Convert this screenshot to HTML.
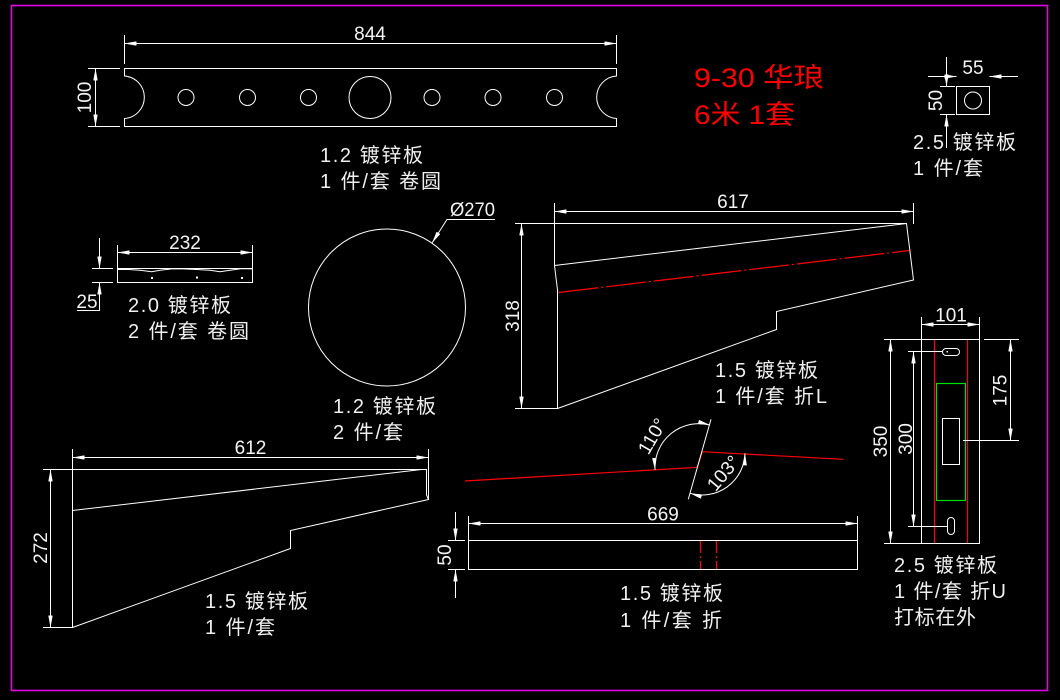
<!DOCTYPE html>
<html><head><meta charset="utf-8"><style>
html,body{margin:0;padding:0;background:#000;}
svg{display:block;}
.l{stroke:#fff;stroke-width:1;fill:none;}
.d{font-family:"Liberation Sans","DejaVu Sans",sans-serif;font-size:19px;fill:#f4f4f4;}
.t{font-family:"Liberation Sans","Noto Sans CJK SC",sans-serif;font-size:20px;fill:#f0f0f0;}
.r{font-family:"Liberation Sans","Noto Sans CJK SC",sans-serif;font-size:27px;fill:#ff0000;}
</style></head><body>
<svg width="1060" height="700" viewBox="0 0 1060 700" xmlns="http://www.w3.org/2000/svg">
<defs>
<marker id="a" viewBox="0 0 12 4.4" refX="12" refY="2.2" markerWidth="12" markerHeight="4.4" markerUnits="userSpaceOnUse" orient="auto-start-reverse"><path d="M0,0L12,2.2L0,4.4z" fill="#fff"/></marker>
</defs>
<rect x="0" y="0" width="1060" height="700" fill="#000"/>
<rect x="11.5" y="5.5" width="1036" height="685" fill="none" stroke="#e600e6" stroke-width="1.6"/>

<!-- Top bar -->
<g class="l">
<path d="M124.5,68.5 H616.5 V76 A21.3,21.3 0 0,0 616.5,118.5 V126.5 H124.5 V118.5 A21.3,21.3 0 0,0 124.5,76 Z"/>
<circle cx="186" cy="97.5" r="8"/><circle cx="247.5" cy="97.5" r="8"/><circle cx="308.5" cy="97.5" r="8"/>
<circle cx="370" cy="97.5" r="21"/>
<circle cx="432" cy="97.5" r="8"/><circle cx="493" cy="97.5" r="8"/><circle cx="554.5" cy="97.5" r="8"/>
<path d="M124.5,35 V64 M616.5,35 V64"/>
<line x1="124.5" y1="43.5" x2="616.5" y2="43.5" marker-start="url(#a)" marker-end="url(#a)"/>
<path d="M88,68.5 H120 M88,126.5 H120"/>
<line x1="95.5" y1="68.5" x2="95.5" y2="126.5" marker-start="url(#a)" marker-end="url(#a)"/>
</g>
<text class="d" x="370" y="40" text-anchor="middle">844</text>
<text class="d" transform="translate(84,97.5) rotate(-90)" text-anchor="middle" dy="6.8">100</text>
<text class="t" x="320" y="162" textLength="103" lengthAdjust="spacing">1.2 镀锌板</text>
<text class="t" x="320" y="188" textLength="121" lengthAdjust="spacing">1 件/套 卷圆</text>

<!-- Red title -->
<text class="r" x="694" y="87" textLength="130" lengthAdjust="spacingAndGlyphs">9-30 华琅</text>
<text class="r" x="694" y="124" textLength="101" lengthAdjust="spacingAndGlyphs">6米 1套</text>

<!-- 55 x 50 part -->
<g class="l">
<rect x="956.5" y="86.5" width="33" height="28"/>
<circle cx="973" cy="100.5" r="8.5"/>
<line x1="928" y1="76.5" x2="956.5" y2="76.5" marker-end="url(#a)"/>
<line x1="1018" y1="76.5" x2="989.5" y2="76.5" marker-end="url(#a)"/>
<line x1="946.5" y1="57" x2="946.5" y2="86.5" marker-end="url(#a)"/>
<line x1="946.5" y1="148" x2="946.5" y2="114.5" marker-end="url(#a)"/>
<path d="M940,86.5 H955 M940,114.5 H955"/>
</g>
<text class="d" x="973" y="74" text-anchor="middle">55</text>
<text class="d" transform="translate(935,100.5) rotate(-90)" text-anchor="middle" dy="6.8">50</text>
<text class="t" x="913" y="149" textLength="103" lengthAdjust="spacing">2.5 镀锌板</text>
<text class="t" x="913" y="175" textLength="70" lengthAdjust="spacing">1 件/套</text>

<!-- 232 part -->
<g class="l">
<rect x="117.5" y="268.5" width="135" height="14"/>
<polyline points="117.5,269.5 128.3,269.5 140,270.2 151.7,271.7 160,270.2 171.7,268.9 183.3,268.9 196.7,269.5 210,270.2 220,271.7 230,270.2 241.7,268.6 252.5,268.9"/>
<path d="M117.5,245 V268 M252.5,245 V268"/>
<line x1="117.5" y1="252.5" x2="252.5" y2="252.5" marker-start="url(#a)" marker-end="url(#a)"/>
<line x1="99.5" y1="238" x2="99.5" y2="268.5" marker-end="url(#a)"/>
<polyline points="77,310.5 99.5,310.5 99.5,282.5" marker-end="url(#a)"/>
<path d="M92,268.5 H113 M92,282.5 H113"/>
</g>
<rect x="151" y="277" width="2" height="2" fill="#fff"/>
<rect x="196" y="276.5" width="2" height="2" fill="#fff"/>
<rect x="241" y="277" width="2" height="2" fill="#fff"/>
<text class="d" x="234" y="0" style="display:none">.</text>
<text class="d" x="185" y="249" text-anchor="middle">232</text>
<text class="d" x="87" y="308" text-anchor="middle">25</text>
<text class="t" x="128" y="312" textLength="103" lengthAdjust="spacing">2.0 镀锌板</text>
<text class="t" x="128" y="338" textLength="121" lengthAdjust="spacing">2 件/套 卷圆</text>

<!-- Circle -->
<g class="l">
<circle cx="387" cy="307.5" r="78.5"/>
<polyline points="495,219.5 447,219.5 432,243" marker-end="url(#a)"/>
</g>
<text class="d" x="450" y="216" textLength="45" lengthAdjust="spacingAndGlyphs">Ø270</text>
<text class="t" x="333" y="413" textLength="103" lengthAdjust="spacing">1.2 镀锌板</text>
<text class="t" x="333" y="439" textLength="70" lengthAdjust="spacing">2 件/套</text>

<!-- 617 part -->
<g class="l">
<polygon points="554.5,265.5 906.5,223.5 913.5,280 776.5,311.5 776.5,329.5 557.5,408.5 557.5,290"/>
<path d="M554.5,203 V265 M913.5,203 V224"/>
<line x1="554.5" y1="211.5" x2="913.5" y2="211.5" marker-start="url(#a)" marker-end="url(#a)"/>
<path d="M515,223.5 H906.5 M515,408.5 H557"/>
<line x1="521.5" y1="223.5" x2="521.5" y2="408.5" marker-start="url(#a)" marker-end="url(#a)"/>
</g>
<line x1="558.5" y1="292.5" x2="909.5" y2="250.5" stroke="#ff0000" stroke-width="1.2" stroke-dasharray="40 3 2 3"/>
<text class="d" x="733" y="208" text-anchor="middle">617</text>
<text class="d" transform="translate(512,316) rotate(-90)" text-anchor="middle" dy="6.8">318</text>
<text class="t" x="715" y="377" textLength="103" lengthAdjust="spacing">1.5 镀锌板</text>
<text class="t" x="715" y="403" textLength="112" lengthAdjust="spacing">1 件/套 折L</text>

<!-- 612 part -->
<g class="l">
<path d="M72.5,510.5 L421.5,469.5 L426.5,469.5 L426.5,495 L428.5,499.5 L290.5,530.5 L290.5,548.5 L72.5,627.5 Z"/>
<path d="M72.5,449 V510 M428.5,449 V499.5"/>
<line x1="72.5" y1="457.5" x2="428.5" y2="457.5" marker-start="url(#a)" marker-end="url(#a)"/>
<path d="M43,469.5 H425 M43,627.5 H72"/>
<line x1="50.5" y1="469.5" x2="50.5" y2="627.5" marker-start="url(#a)" marker-end="url(#a)"/>
</g>
<text class="d" x="250.5" y="454" text-anchor="middle">612</text>
<text class="d" transform="translate(40,548) rotate(-90)" text-anchor="middle" dy="6.8">272</text>
<text class="t" x="205" y="608" textLength="103" lengthAdjust="spacing">1.5 镀锌板</text>
<text class="t" x="205" y="634" textLength="70" lengthAdjust="spacing">1 件/套</text>

<!-- Angle bend part -->
<polyline points="465,481 697.3,467.3 702.3,451.7 843.3,459.3" fill="none" stroke="#ff0000" stroke-width="1.2"/>
<g class="l">
<line x1="711" y1="419.3" x2="688.3" y2="499.3"/>
<path d="M655,470 A44,44 0 0,1 710,425" marker-start="url(#a)" marker-end="url(#a)"/>
<path d="M745,453.3 A43,43 0 0,1 690,493.3" marker-start="url(#a)" marker-end="url(#a)"/>
</g>
<text class="d" transform="translate(652,436) rotate(-60)" text-anchor="middle" dy="6.8">110°</text>
<text class="d" transform="translate(723,473) rotate(-50)" text-anchor="middle" dy="6.8">103°</text>

<!-- 669 part -->
<g class="l">
<rect x="468.5" y="540.5" width="389" height="29"/>
<path d="M468.5,516 V540 M857.5,516 V540"/>
<line x1="468.5" y1="523.5" x2="857.5" y2="523.5" marker-start="url(#a)" marker-end="url(#a)"/>
<line x1="455.5" y1="512" x2="455.5" y2="540.5" marker-end="url(#a)"/>
<line x1="455.5" y1="598" x2="455.5" y2="569.5" marker-end="url(#a)"/>
<path d="M448,540.5 H465 M448,569.5 H465"/>
</g>
<path d="M700.5,541 V569 M716.5,541 V569" stroke="#ff0000" stroke-width="1.2" stroke-dasharray="12 3 2 3"/>
<text class="d" x="663" y="520.5" text-anchor="middle">669</text>
<text class="d" transform="translate(444,555) rotate(-90)" text-anchor="middle" dy="6.8">50</text>
<text class="t" x="620" y="600" textLength="103" lengthAdjust="spacing">1.5 镀锌板</text>
<text class="t" x="620" y="627" textLength="102" lengthAdjust="spacing">1 件/套 折</text>

<!-- 101 part -->
<path d="M934.5,339.5 V543.5 M967.5,339.5 V543.5" stroke="#ff0000" stroke-width="1.2"/>
<rect x="936.5" y="383.5" width="29" height="117" fill="none" stroke="#00e000" stroke-width="1.2"/>
<g class="l">
<rect x="921.5" y="339.5" width="58" height="204"/>
<rect x="942.5" y="348.5" width="17" height="7" rx="3.5"/>
<rect x="947.5" y="517.5" width="7" height="17" rx="3.5"/>
<rect x="942.5" y="418.5" width="17" height="46"/>
<path d="M921.5,317 V339 M979.5,317 V339"/>
<line x1="921.5" y1="324.5" x2="979.5" y2="324.5" marker-start="url(#a)" marker-end="url(#a)"/>
<path d="M884,339.5 H921 M884,543.5 H921"/>
<line x1="890.5" y1="339.5" x2="890.5" y2="543.5" marker-start="url(#a)" marker-end="url(#a)"/>
<path d="M908,351.5 H942.5 M908,526.5 H947.5"/>
<line x1="913.5" y1="351.5" x2="913.5" y2="526.5" marker-start="url(#a)" marker-end="url(#a)"/>
<path d="M984,339.5 H1019 M963,440.5 H1019"/>
<line x1="1010.5" y1="339.5" x2="1010.5" y2="440.5" marker-start="url(#a)" marker-end="url(#a)"/>
</g>
<rect x="946.5" y="351" width="1.5" height="1.5" fill="#fff"/>
<text class="d" x="951" y="321.5" text-anchor="middle">101</text>
<text class="d" transform="translate(880,441.5) rotate(-90)" text-anchor="middle" dy="6.8">350</text>
<text class="d" transform="translate(905,439) rotate(-90)" text-anchor="middle" dy="6.8">300</text>
<text class="d" transform="translate(999.5,390.5) rotate(-90)" text-anchor="middle" dy="6.8">175</text>
<text class="t" x="894" y="572" textLength="103" lengthAdjust="spacing">2.5 镀锌板</text>
<text class="t" x="894" y="598" textLength="112" lengthAdjust="spacing">1 件/套 折U</text>
<text class="t" x="894" y="624" textLength="82" lengthAdjust="spacing">打标在外</text>
</svg>
</body></html>
